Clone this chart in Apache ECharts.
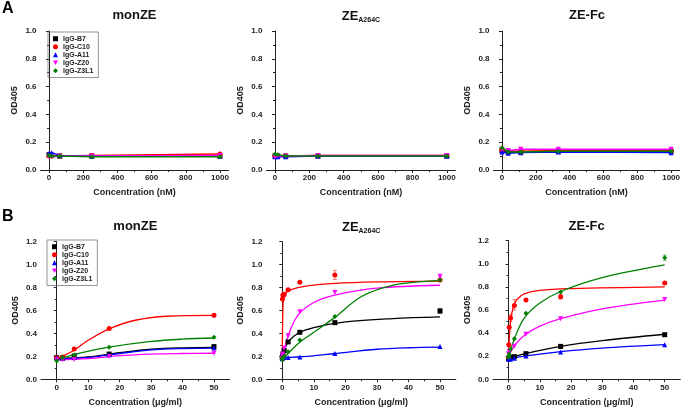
<!DOCTYPE html>
<html><head><meta charset="utf-8">
<script src="https://cdn.jsdelivr.net/npm/echarts@6/dist/echarts.min.js"></script>
<style>html,body{margin:0;padding:0;background:#fff}#c{width:683px;height:412px}</style>
</head><body><div id="c"></div>
<script>
// ---------- data ----------
const names = ['IgG-B7','IgG-C10','IgG-A11','IgG-Z20','IgG-Z3L1'];
const colors = ['#000000','#ff0000','#0000ff','#ff00ff','#008000'];
const symbols = ['rect','circle','triangle','path://M0,0 L10,0 L5,9 Z','diamond'];
const panelTitles = ['monZE','ZE_A264C','ZE-Fc'];

const xTicksNM = [0,200,400,600,800,1000];
const xMinorNM = [100,300,500,700,900];
const xTicksUG = [0,10,20,30,40,50];
const xMinorUG = [5,15,25,35,45];

// Panel A (nM)
const xA1 = [0, 15.6, 62.5, 250, 1000];
const xA2 = [0, 15.6, 62.5, 250, 1000];
const xA3 = [0, 37, 111, 333, 1000];
const A1_B7 = [0.11, 0.105, 0.10, 0.10, 0.10];
const A1_C10 = [0.10, 0.10, 0.10, 0.105, 0.115];
const A1_A11 = [0.12, 0.125, 0.105, 0.10, 0.10];
const A1_Z20 = [0.095, 0.095, 0.10, 0.10, 0.105];
const A1_Z3L1 = [0.105, 0.10, 0.10, 0.095, 0.095];
const A2_B7 = [0.10, 0.10, 0.10, 0.10, 0.10];
const A2_C10 = [0.10, 0.10, 0.10, 0.105, 0.105];
const A2_A11 = [0.095, 0.095, 0.095, 0.10, 0.10];
const A2_Z20 = [0.095, 0.10, 0.10, 0.105, 0.105];
const A2_Z3L1 = [0.115, 0.11, 0.10, 0.10, 0.10];
const A3_B7 = [0.14, 0.13, 0.13, 0.135, 0.135];
const A3_C10 = [0.145, 0.135, 0.135, 0.14, 0.14];
const A3_A11 = [0.13, 0.12, 0.125, 0.13, 0.125];
const A3_Z20 = [0.15, 0.14, 0.15, 0.15, 0.15];
const A3_Z3L1 = [0.16, 0.13, 0.13, 0.135, 0.135];

// Panel B (ug/ml) measured points
const xB1 = [0, 1.85, 5.56, 16.67, 50];
const xB23 = [0, 0.07, 0.2, 0.62, 1.85, 5.56, 16.67, 50];
const B1_B7 = [0.189, 0.185, 0.203, 0.22, 0.285];
const B1_C10 = [0.189, 0.195, 0.265, 0.442, 0.558];
const B1_A11 = [0.185, 0.185, 0.19, 0.215, 0.273];
const B1_Z20 = [0.168, 0.17, 0.172, 0.198, 0.227];
const B1_Z3L1 = [0.16, 0.19, 0.212, 0.279, 0.366];
const B2_B7 = [0.19, 0.20, 0.22, 0.25, 0.326, 0.41, 0.494, 0.596];
const B2_C10 = [0.18, 0.70, 0.735, 0.74, 0.78, 0.846, 0.91, 0.866];
const B2_A11 = [0.18, 0.185, 0.19, 0.19, 0.19, 0.195, 0.224, 0.285];
const B2_Z20 = [0.18, 0.20, 0.22, 0.27, 0.38, 0.59, 0.756, 0.895];
const B2_Z3L1 = [0.17, 0.18, 0.19, 0.20, 0.24, 0.343, 0.547, 0.866];
const B3_B7 = [0.18, 0.18, 0.185, 0.19, 0.196, 0.222, 0.285, 0.386];
const B3_C10 = [0.19, 0.30, 0.45, 0.53, 0.64, 0.686, 0.715, 0.834];
const B3_A11 = [0.175, 0.175, 0.175, 0.175, 0.182, 0.202, 0.237, 0.30];
const B3_Z20 = [0.22, 0.22, 0.24, 0.25, 0.286, 0.39, 0.525, 0.69];
const B3_Z3L1 = [0.19, 0.20, 0.22, 0.26, 0.352, 0.571, 0.756, 1.053];

// Panel B fitted curves as [x, y]
const fitB1_B7 = [[0,0.18],[10,0.195],[20,0.232],[30,0.262],[40,0.274],[50,0.278]];
const fitB1_C10 = [[0,0.18],[5,0.245],[10,0.34],[16.67,0.44],[25,0.515],[35,0.55],[50,0.558]];
const fitB1_A11 = [[0,0.178],[10,0.19],[20,0.225],[30,0.256],[40,0.268],[50,0.272]];
const fitB1_Z20 = [[0,0.17],[10,0.18],[20,0.206],[30,0.22],[40,0.225],[50,0.227]];
const fitB1_Z3L1 = [[0,0.17],[8,0.232],[16.67,0.28],[30,0.33],[40,0.35],[50,0.36]];
const fitB2_B7 = [[0,0.18],[1,0.28],[2,0.33],[5,0.40],[10,0.45],[20,0.50],[35,0.53],[50,0.545]];
const fitB2_C10 = [[0,0.18],[0.15,0.55],[0.4,0.71],[1,0.75],[3,0.785],[8,0.815],[16.67,0.837],[30,0.85],[50,0.857]];
const fitB2_A11 = [[0,0.19],[8,0.2],[16.67,0.225],[30,0.262],[40,0.275],[50,0.28]];
const fitB2_Z20 = [[0,0.18],[2,0.39],[5,0.56],[10,0.67],[16.67,0.735],[30,0.795],[50,0.82]];
const fitB2_Z3L1 = [[0,0.17],[5,0.31],[10,0.41],[16.67,0.54],[25,0.72],[35,0.82],[50,0.86]];
const fitB3_B7 = [[0,0.18],[5,0.22],[16.67,0.285],[30,0.335],[50,0.39]];
const fitB3_C10 = [[0,0.18],[0.3,0.40],[1,0.57],[2,0.66],[3,0.70],[5,0.74],[10,0.77],[20,0.785],[50,0.80]];
const fitB3_A11 = [[0,0.175],[5,0.20],[16.67,0.24],[30,0.27],[50,0.30]];
const fitB3_Z20 = [[0,0.20],[2,0.295],[5,0.38],[10,0.46],[16.67,0.525],[30,0.61],[50,0.685]];
const fitB3_Z3L1 = [[0,0.19],[2,0.36],[5,0.53],[10,0.66],[16.67,0.76],[30,0.88],[50,0.99]];

// error bars [x, low, high, colour index]
const errB2 = [[16.67,0.87,0.95,1],[50,0.87,0.92,3],[50,0.575,0.615,0],[0.62,0.72,0.76,1]];
const errB3 = [[50,1.03,1.075,4],[1.85,0.60,0.69,1],[16.67,0.695,0.735,1],[0.62,0.50,0.56,1]];

// ---------- layout ----------
const grids = [
  {left:40.5, top:31, width:188, height:139},
  {left:266.4, top:31, width:189, height:139},
  {left:493.5, top:31, width:187, height:139},
  {left:41, top:241.7, width:188.7, height:137.6},
  {left:266.5, top:241.7, width:189.3, height:137.6},
  {left:493, top:240.7, width:187.3, height:138.6}
];
const FONT = 'Liberation Sans, Arial, sans-serif';
const xAxes = [], yAxes = [], series = [];

grids.forEach((g, i) => {
  const isA = i < 3;
  xAxes.push({
    gridIndex: i, type: 'value', position: 'bottom',
    min: isA ? -50 : -5, max: isA ? 1050 : 55,
    name: isA ? 'Concentration (nM)' : 'Concentration (\u03bcg/ml)',
    nameLocation: 'middle', nameGap: isA ? 18.5 : 19,
    nameTextStyle: {fontFamily: FONT, fontSize: 9, fontWeight: 'bold', color: '#222'},
    axisLine: {lineStyle: {color: '#222', width: 1}},
    axisTick: {customValues: isA ? xTicksNM : xTicksUG, length: 3, lineStyle: {color: '#222'}},
    axisLabel: {customValues: isA ? xTicksNM : xTicksUG, fontFamily: FONT, fontSize: 8, fontWeight: 'bold', color: '#222', margin: 4, formatter: v => String(v)},
    splitLine: {show: false}
  });
  yAxes.push({
    gridIndex: i, type: 'value', min: 0, max: isA ? 1.0 : 1.2, interval: 0.2,
    name: 'OD405', nameLocation: 'middle', nameGap: 21,
    nameTextStyle: {fontFamily: FONT, fontSize: 9, fontWeight: 'bold', color: '#222'},
    axisLine: {show: true, lineStyle: {color: '#222', width: 1}},
    axisTick: {show: true, length: 3, lineStyle: {color: '#222'}},
    minorTick: {show: true, splitNumber: 2, length: 2, lineStyle: {color: '#222'}},
    axisLabel: {fontFamily: FONT, fontSize: 8, fontWeight: 'bold', color: '#222', margin: 4, formatter: v => v.toFixed(1)},
    splitLine: {show: false}
  });
});
// minor x tick overlay axes
grids.forEach((g, i) => {
  const isA = i < 3;
  xAxes.push({
    gridIndex: i, type: 'value', position: 'bottom',
    min: isA ? -50 : -5, max: isA ? 1050 : 55,
    axisLine: {show: false},
    axisTick: {customValues: isA ? xMinorNM : xMinorUG, length: 2, lineStyle: {color: '#222'}},
    axisLabel: {show: false}, splitLine: {show: false}
  });
});

const zip = (xs, ys) => xs.map((x, k) => [x, ys[k]]);
const Avals = [
  [A1_B7, A1_C10, A1_A11, A1_Z20, A1_Z3L1],
  [A2_B7, A2_C10, A2_A11, A2_Z20, A2_Z3L1],
  [A3_B7, A3_C10, A3_A11, A3_Z20, A3_Z3L1]
];
const Axs = [xA1, xA2, xA3];
Avals.forEach((vals, p) => {
  vals.forEach((v, s) => {
    series.push({
      type: 'line', name: names[s], xAxisIndex: p, yAxisIndex: p,
      data: zip(Axs[p], v), symbol: symbols[s], symbolSize: 5,
      itemStyle: {color: colors[s]}, lineStyle: {color: colors[s], width: 1.5},
      z: 2 + s
    });
  });
});
const Bvals = [
  [B1_B7, B1_C10, B1_A11, B1_Z20, B1_Z3L1],
  [B2_B7, B2_C10, B2_A11, B2_Z20, B2_Z3L1],
  [B3_B7, B3_C10, B3_A11, B3_Z20, B3_Z3L1]
];
const Bfits = [
  [fitB1_B7, fitB1_C10, fitB1_A11, fitB1_Z20, fitB1_Z3L1],
  [fitB2_B7, fitB2_C10, fitB2_A11, fitB2_Z20, fitB2_Z3L1],
  [fitB3_B7, fitB3_C10, fitB3_A11, fitB3_Z20, fitB3_Z3L1]
];
const Bxs = [xB1, xB23, xB23];
Bvals.forEach((vals, p) => {
  const ai = p + 3;
  vals.forEach((v, s) => {
    series.push({
      type: 'line', name: names[s], xAxisIndex: ai, yAxisIndex: ai,
      data: Bfits[p][s], showSymbol: false, smooth: 0.35,
      lineStyle: {color: colors[s], width: 1.3}, itemStyle: {color: colors[s]}, z: 2
    });
    series.push({
      type: 'scatter', name: names[s], xAxisIndex: ai, yAxisIndex: ai,
      data: zip(Bxs[p], v), symbol: symbols[s], symbolSize: 5,
      itemStyle: {color: colors[s], opacity: 1}, z: 3
    });
  });
});
[[errB2, 4], [errB3, 5]].forEach(([errs, ai]) => {
  series.push({
    type: 'custom', xAxisIndex: ai, yAxisIndex: ai, data: errs, z: 1,
    renderItem: (params, api) => {
      const x = api.value(0), lo = api.value(1), hi = api.value(2), ci = api.value(3);
      const p1 = api.coord([x, lo]), p2 = api.coord([x, hi]);
      const st = {stroke: colors[ci], lineWidth: 1, opacity: 0.5};
      return {type: 'group', children: [
        {type: 'line', shape: {x1: p1[0], y1: p1[1], x2: p2[0], y2: p2[1]}, style: st},
        {type: 'line', shape: {x1: p1[0]-2, y1: p1[1], x2: p1[0]+2, y2: p1[1]}, style: st},
        {type: 'line', shape: {x1: p2[0]-2, y1: p2[1], x2: p2[0]+2, y2: p2[1]}, style: st}
      ]};
    }
  });
});

const titleStyle = {fontFamily: FONT, fontSize: 13, fontWeight: 'bold', color: '#111'};
const titles = [];
grids.forEach((g, i) => {
  const t = panelTitles[i % 3];
  const cx = g.left + g.width / 2;
  const top = i < 3 ? 9 : 219.5;
  if (t === 'ZE_A264C') {
    titles.push({
      text: '{a|ZE}{b|A264C}', left: cx, top: top, textAlign: 'center', padding: 0,
      textStyle: {rich: {
        a: {fontFamily: FONT, fontSize: 13, fontWeight: 'bold', color: '#111'},
        b: {fontFamily: FONT, fontSize: 7, fontWeight: 'bold', color: '#111', padding: [8, 0, 0, 0]}
      }}
    });
  } else {
    titles.push({text: t, left: cx, top: top, textAlign: 'center', padding: 0, textStyle: titleStyle});
  }
});
titles.push({text: 'A', left: 2, top: 1, padding: 0, textStyle: {fontFamily: FONT, fontSize: 16, fontWeight: 'bold', color: '#000'}});
titles.push({text: 'B', left: 2, top: 209, padding: 0, textStyle: {fontFamily: FONT, fontSize: 16, fontWeight: 'bold', color: '#000'}});

const legendData = names.map((n, s) => ({name: n, icon: symbols[s], itemStyle: {color: colors[s]}}));
const legendBase = {
  orient: 'vertical', data: legendData, itemWidth: 5, itemHeight: 5, itemGap: 0.5,
  borderColor: '#777', borderWidth: 0.8, padding: [3, 5, 3, 5],
  textStyle: {fontFamily: FONT, fontSize: 7, fontWeight: 'bold', color: '#222', lineHeight: 7.5},
  selectedMode: false
};
const chart = echarts.init(document.getElementById('c'), null, {renderer: 'canvas'});
chart.setOption({
  animation: false,
  backgroundColor: '#fff',
  title: titles,
  legend: [
    Object.assign({}, legendBase, {left: 48, top: 32}),
    Object.assign({}, legendBase, {left: 47, top: 240})
  ],
  grid: grids,
  xAxis: xAxes,
  yAxis: yAxes,
  series: series
});
</script>
</body></html>
